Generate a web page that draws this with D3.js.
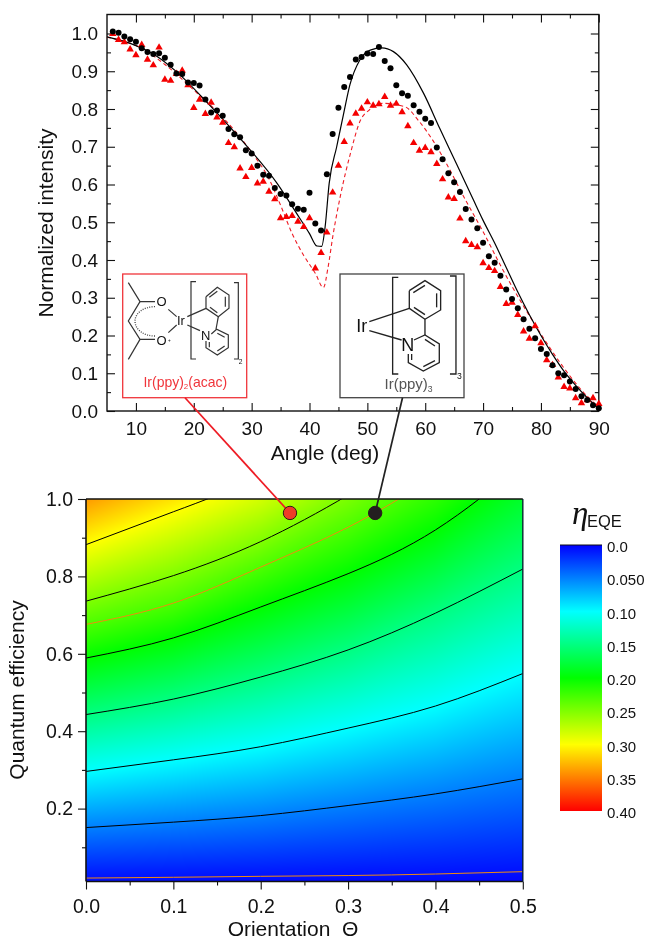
<!DOCTYPE html>
<html><head><meta charset="utf-8">
<script src="https://cdn.jsdelivr.net/npm/d3@7/dist/d3.min.js"></script>
<style>html,body{margin:0;padding:0;background:#fff}#w{position:relative;width:645px;height:941px}canvas,svg{position:absolute;left:0;top:0}text{font-family:"Liberation Sans",Arial,sans-serif;fill:#111}</style>
</head><body><div id="w"><canvas id="heat" width="645" height="941"></canvas><svg id="s" width="645" height="941"></svg></div>
<script>
// top panel data
const angleFirst = 6;
const blackPts = [1.005,1.002,.992,.985,.978,.961,.951,.946,.948,.936,.917,.894,.893,.870,.869,.862,.825,.791,.796,.782,.747,.733,.725,.691,.682,.650,.626,.623,.591,.575,.571,.548,.536,.533,.578,.497,.478,.627,.734,.803,.858,.885,.931,.938,.947,.946,.964,.927,.908,.863,.842,.835,.810,.793,.774,.763,.698,.667,.630,.606,.580,.535,.507,.484,.446,.410,.393,.358,.322,.297,.272,.243,.218,.193,.164,.151,.121,.100,.095,.078,.058,.039,.029,.015,.007];
const redPts = [.999,.983,.977,.958,.943,.970,.931,.916,.963,.878,.875,.893,.902,.863,.803,.825,.787,.817,.778,.764,.710,.699,.643,.620,.644,.603,.608,.581,.561,.511,.514,.517,.502,.488,.511,.378,.419,.473,.579,.650,.713,.762,.788,.801,.818,.809,.813,.832,.809,.814,.792,.755,.710,.690,.697,.686,.655,.614,.566,.562,.510,.450,.440,.434,.392,.379,.371,.329,.284,.287,.255,.211,.192,.225,.180,.135,.122,.089,.064,.060,.034,.021,.029,.034,.019];
const fitBlackX = [5,10,13.6,17,22.2,28,34.4,37.8,40,41.3,42.1,42.7,43.4,44.7,45.9,47,48.7,50.5,52.5,54.5,56.8,59.7,62.5,65.4,68.3,70,72,74,76,78,80,82,84,86,88,90];
const fitBlackY = [.991,.968,.94,.899,.819,.722,.603,.523,.47,.437,.436,.488,.603,.70,.788,.865,.93,.956,.962,.952,.917,.842,.749,.655,.56,.505,.445,.38,.315,.255,.20,.15,.105,.068,.035,.005];
const fitRedX = [5,10,15,20,25,30,33,35,37,39,41,42.4,43.2,44,45.3,47,48.8,50.3,52.6,56.5,58.8,61.1,63.5,67,70,73,75,79,83.4,87.5,90];
const fitRedY = [.99,.968,.918,.85,.778,.685,.615,.545,.47,.412,.365,.327,.38,.46,.567,.678,.77,.797,.815,.806,.77,.722,.66,.558,.475,.386,.33,.228,.126,.047,.01];
const xMajor = [10,20,30,40,50,60,70,80,90];
const xMinor = [15,25,35,45,55,65,75,85];
const yMajor = [0,.1,.2,.3,.4,.5,.6,.7,.8,.9,1];
const yMinor = [.05,.15,.25,.35,.45,.55,.65,.75,.85,.95];
// bottom panel data
const thetaGrid = [0,.1,.2,.3,.4,.5];
const contourLevels = [0,.05,.1,.15,.2,.23,.25,.3,.35,.4];
const q000 = [0,0,0,0,0,0];
const q005 = [.151,.165,.182,.208,.238,.277];
const q010 = [.296,.326,.36,.408,.465,.549];
const q015 = [.443,.483,.54,.61,.705,.819];
const q020 = [.589,.641,.721,.807,.92,1.09];
const q023 = [.676,.731,.824,.927,1.06,1.22];
const q025 = [.736,.802,.89,1.01,1.15,1.3];
const q030 = [.882,.967,1.06,1.19,1.33,1.5];
const q035 = [1.03,1.12,1.24,1.38,1.55,1.75];
const q040 = [1.18,1.29,1.42,1.58,1.78,2.0];
const qFloor = [.0205,.0225,.025,.027,.031,.037];
const sampleNames = ["Ir(ppy)2(acac)","Ir(ppy)3"];
const sampleTheta = [.2335,.331];
const sampleQ = [.964,.964];
const barTicks = ["0.0","0.050","0.10","0.15","0.20","0.25","0.30","0.35","0.40"];
const barValues = [0,.05,.1,.15,.2,.25,.3,.35,.4];
const colorStops = ["#0000ff","#0080ff","#00ffff","#00ff80","#00ff00","#80ff00","#ffff00","#ff8000","#ff0000"];
const rowsQ = [q000,q005,q010,q015,q020,q023,q025,q030,q035,q040];

const svg = d3.select("#s");
const color = d3.scaleLinear().domain(barValues).range(colorStops).clamp(true);
const x = d3.scaleLinear().domain([5,90]).range([107,598.8]);
const y = d3.scaleLinear().domain([0,1]).range([411,33.5]);
const plotTop = 14.5;
const bx = d3.scaleLinear().domain([0,.5]).range([86,522.8]);
const by = d3.scaleLinear().domain([0,1]).range([886,499]);
const bottomY = 881.5;

function styleAxis(g,fs){g.selectAll("path").attr("stroke","none");g.selectAll("line").attr("stroke","#111").attr("stroke-width",1.1);g.selectAll("text").attr("font-size",fs).attr("fill","#111").style("font-family",'"Liberation Sans",sans-serif');}
const T = svg.append("g");
T.append("rect").attr("x",107).attr("y",plotTop).attr("width",491.8).attr("height",411-plotTop).attr("fill","none").attr("stroke","#111").attr("stroke-width",1.4);
const xB=T.append("g").attr("transform","translate(0,411)").call(d3.axisBottom(x).tickValues(xMajor).tickSize(-8).tickSizeOuter(0).tickPadding(7).tickFormat(d3.format("d")));
styleAxis(xB,19);
xB.selectAll("text").attr("dy","0.9em");
const xBm=T.append("g").attr("transform","translate(0,411)").call(d3.axisBottom(x).tickValues(xMinor).tickSize(-4).tickSizeOuter(0).tickFormat(""));styleAxis(xBm,1);
const xT=T.append("g").attr("transform",`translate(0,${plotTop})`).call(d3.axisTop(x).tickValues(xMajor).tickSize(-8).tickSizeOuter(0).tickFormat(""));styleAxis(xT,1);
const xTm=T.append("g").attr("transform",`translate(0,${plotTop})`).call(d3.axisTop(x).tickValues(xMinor).tickSize(-4).tickSizeOuter(0).tickFormat(""));styleAxis(xTm,1);
const yL=T.append("g").attr("transform","translate(107,0)").call(d3.axisLeft(y).tickValues(yMajor).tickSize(-8).tickSizeOuter(0).tickPadding(9).tickFormat(d3.format(".1f")));styleAxis(yL,19);
const yLm=T.append("g").attr("transform","translate(107,0)").call(d3.axisLeft(y).tickValues(yMinor).tickSize(-4).tickSizeOuter(0).tickFormat(""));styleAxis(yLm,1);
const yR=T.append("g").attr("transform","translate(598.8,0)").call(d3.axisRight(y).tickValues(yMajor).tickSize(-8).tickSizeOuter(0).tickFormat(""));styleAxis(yR,1);
const yRm=T.append("g").attr("transform","translate(598.8,0)").call(d3.axisRight(y).tickValues(yMinor).tickSize(-4).tickSizeOuter(0).tickFormat(""));styleAxis(yRm,1);

const lineGen=d3.line().x(d=>x(d[0])).y(d=>y(d[1])).curve(d3.curveMonotoneX);
T.append("path").attr("d",lineGen(d3.zip(fitRedX,fitRedY))).attr("fill","none").attr("stroke","#ee1c25").attr("stroke-width",1.1).attr("stroke-dasharray","4 3");
T.append("path").attr("d",lineGen(d3.zip(fitBlackX,fitBlackY))).attr("fill","none").attr("stroke","#000").attr("stroke-width",1.2);
const tri=d3.symbol().type(d3.symbolTriangle).size(24);
T.append("g").selectAll("path").data(redPts).join("path").attr("d",tri).attr("fill","#f40000").attr("transform",(d,i)=>`translate(${x(angleFirst+i)},${y(d)})`);
T.append("g").selectAll("circle").data(blackPts).join("circle").attr("r",3).attr("fill","#000").attr("cx",(d,i)=>x(angleFirst+i)).attr("cy",d=>y(d));
svg.append("text").attr("x",325).attr("y",460).attr("text-anchor","middle").attr("font-size",21).text("Angle (deg)");
svg.append("text").attr("transform","translate(53,223) rotate(-90)").attr("text-anchor","middle").attr("font-size",21).text("Normalized intensity");

// heat map
const ctx=document.getElementById("heat").getContext("2d");
const bxL=bx(0),bxR=bx(.5),byT=by(1);
for(let px=Math.floor(bxL);px<Math.ceil(bxR);px+=1){
  const th=bx.invert(px+.5);
  const qs=rowsQ.map(r=>d3.scaleLinear().domain(thetaGrid).range(r)(th));
  const inv=d3.scaleLinear().domain(qs).range(contourLevels);
  for(let py=Math.floor(byT);py<bottomY;py+=1){
    ctx.fillStyle=color(inv(by.invert(py+.5)));ctx.fillRect(px,py,1,1);
  }
}
// contours
const B=svg.append("g");
const defs=svg.append("defs");
defs.append("clipPath").attr("id","c").append("rect").attr("x",bxL).attr("y",byT).attr("width",bxR-bxL).attr("height",bottomY-byT);
const cLine=d3.line().x(d=>bx(d[0])).y(d=>by(d[1])).curve(d3.curveNatural);
const cg=B.append("g").attr("clip-path","url(#c)");
[q005,q010,q015,q020,q025,q030].forEach(r=>cg.append("path").attr("d",cLine(d3.zip(thetaGrid,r))).attr("fill","none").attr("stroke","#000").attr("stroke-width",1));
[q023,qFloor].forEach(r=>cg.append("path").attr("d",cLine(d3.zip(thetaGrid,r))).attr("fill","none").attr("stroke","#f08a10").attr("stroke-width",1));
const bxAxis=B.append("g").attr("transform",`translate(0,${bottomY})`).call(d3.axisBottom(bx).tickValues([0,.1,.2,.3,.4,.5]).tickSize(8).tickSizeOuter(0).tickPadding(10).tickFormat(d3.format(".1f")));styleAxis(bxAxis,19.5);
const bxAxis2=B.append("g").attr("transform",`translate(0,${bottomY})`).call(d3.axisBottom(bx).tickValues([.05,.15,.25,.35,.45]).tickSize(4).tickSizeOuter(0).tickFormat(""));styleAxis(bxAxis2,1);
const byAxis=B.append("g").attr("transform",`translate(${bxL},0)`).call(d3.axisLeft(by).tickValues([.2,.4,.6,.8,1]).tickSize(8).tickSizeOuter(0).tickPadding(5).tickFormat(d3.format(".1f")));styleAxis(byAxis,19.5);
const byAxis2=B.append("g").attr("transform",`translate(${bxL},0)`).call(d3.axisLeft(by).tickValues([.1,.3,.5,.7,.9]).tickSize(4).tickSizeOuter(0).tickFormat(""));styleAxis(byAxis2,1);
B.append("line").attr("x1",bxL).attr("x2",bxL).attr("y1",byT).attr("y2",bottomY).attr("stroke","#111").attr("stroke-width",1.6);
B.append("line").attr("x1",bxL).attr("x2",bxR).attr("y1",bottomY).attr("y2",bottomY).attr("stroke","#111").attr("stroke-width",1.6);
B.append("line").attr("x1",bxL).attr("x2",bxR).attr("y1",byT).attr("y2",byT).attr("stroke","#111").attr("stroke-width",1.6);
B.append("line").attr("x1",bxR).attr("x2",bxR).attr("y1",byT).attr("y2",bottomY).attr("stroke","#0a2030").attr("stroke-width",1.6).attr("stroke-opacity",.85);
svg.append("text").attr("x",293).attr("y",936).attr("text-anchor","middle").attr("font-size",21).attr("xml:space","preserve").text("Orientation  Θ");
svg.append("text").attr("transform","translate(24,690) rotate(-90)").attr("text-anchor","middle").attr("font-size",21).text("Quantum efficiency");

// colour bar
const barY=d3.scaleLinear().domain([0,.4]).range([545,811]);
const grad=defs.append("linearGradient").attr("id","g").attr("x1",0).attr("x2",0).attr("y1",0).attr("y2",1);
barValues.forEach((v,i)=>grad.append("stop").attr("offset",v/.4).attr("stop-color",colorStops[i]));
svg.append("rect").attr("x",560).attr("y",545).attr("width",42).attr("height",266).attr("fill","url(#g)");
svg.append("line").attr("x1",560).attr("x2",602).attr("y1",545).attr("y2",545).attr("stroke","#111").attr("stroke-width",1);
svg.append("g").selectAll("text").data(barValues).join("text").attr("x",607).attr("y",d=>barY(d)+7).attr("font-size",15).text((d,i)=>barTicks[i]);
svg.append("text").attr("x",572).attr("y",524).attr("text-anchor","start").attr("font-size",33).attr("font-style","italic").style("font-family",'"Liberation Serif",serif').text("η");
svg.append("text").attr("x",587).attr("y",527).attr("font-size",16.5).text("EQE");

// boxes with structures
const S=svg.append("g").attr("transform","translate(110,260) scale(0.3333)");
const redStruct=[
 [[55,68],[90,125],[135,125]],[[90,125],[55,183],[90,238],[135,238]],[[55,298],[90,238]],
 [[175,148],[200,170]],[[175,218],[200,195]],[[232,170],[288,145]],[[232,195],[270,212]],
 [[258,65],[243,65],[243,297],[258,297]],[[372,68],[385,68],[385,297],[372,297]],
 [[288,110],[322,82],[357,105],[357,145],[325,170],[288,145],[288,110]],
 [[298,112],[322,94]],[[346,110],[346,140]],[[300,142],[322,158]],
 [[325,170],[318,208]],[[304,222],[320,208],[355,225],[355,263],[322,285],[288,263],[288,243]],
 [[322,220],[344,232]],[[344,258],[322,273]],[[298,262],[298,246]]];
const grayStruct=[
 [[865,52],[848,52],[848,342],[865,342]],[[1020,48],[1038,48],[1038,342],[1020,342]],
 [[898,92],[945,62],[992,92],[992,150],[945,178],[898,145],[898,92]],
 [[910,98],[945,76]],[[980,100],[980,142]],[[912,142],[945,164]],
 [[778,185],[898,145]],[[778,212],[875,240]],[[945,178],[945,225]],
 [[912,240],[945,225],[988,252],[988,308],[940,333],[895,308],[895,282]],
 [[945,238],[975,258]],[[975,302],[940,320]],[[905,300],[905,282]]];
const poly=d3.line();
S.append("g").selectAll("path").data(redStruct).join("path").attr("d",poly).attr("fill","none").attr("stroke","#333").attr("stroke-width",3.6);
S.append("g").selectAll("path").data(grayStruct).join("path").attr("d",poly).attr("fill","none").attr("stroke","#222").attr("stroke-width",4);
S.append("path").attr("d","M135 140C100 140 75 160 75 183C75 208 100 228 135 228").attr("fill","none").attr("stroke","#444").attr("stroke-width",4).attr("stroke-dasharray","3 4");
const lab=(t,a,b,fs)=>S.append("text").attr("x",a).attr("y",b).attr("text-anchor","middle").attr("font-size",fs).attr("fill","#222").text(t);
lab("O",155,138,39);lab("O",155,254,39);lab("Ir",213,196,39);lab("N",287,240,39);lab("2",392,312,20);lab("+",178,246,14);
lab("Ir",755,217,54);lab("N",893,272,54);lab("3",1048,358,26);
S.append("text").attr("x",226).attr("y",382).attr("text-anchor","middle").attr("font-size",42).style("fill","#f0353b").html('Ir(ppy)<tspan font-size="24" dy="6">2</tspan><tspan dy="-6">(acac)</tspan>');
S.append("text").attr("x",896).attr("y",388).attr("text-anchor","middle").attr("font-size",45).style("fill","#555").html('Ir(ppy)<tspan font-size="26" dy="7">3</tspan>');

svg.append("rect").attr("x",122.7).attr("y",274).attr("width",124).attr("height",123.7).attr("fill","none").attr("stroke","#f0353b").attr("stroke-width",1.3);
svg.append("rect").attr("x",340).attr("y",274).attr("width",124).attr("height",123.7).attr("fill","none").attr("stroke","#444").attr("stroke-width",1.3);
svg.append("line").attr("x1",185).attr("y1",397.7).attr("x2",bx(sampleTheta[0])).attr("y2",by(sampleQ[0])).attr("stroke","#ee1c25").attr("stroke-width",1.7);
svg.append("line").attr("x1",402.5).attr("y1",397.7).attr("x2",bx(sampleTheta[1])).attr("y2",by(sampleQ[1])).attr("stroke","#222").attr("stroke-width",1.7);
const dotFill=["#ee3d27","#231f20"];
svg.append("g").selectAll("circle").data(sampleNames).join("circle").attr("cx",(d,i)=>bx(sampleTheta[i])).attr("cy",(d,i)=>by(sampleQ[i])).attr("r",6.7).attr("fill",(d,i)=>dotFill[i]).attr("stroke","#2a1a1a").attr("stroke-width",1);
</script></body></html>
